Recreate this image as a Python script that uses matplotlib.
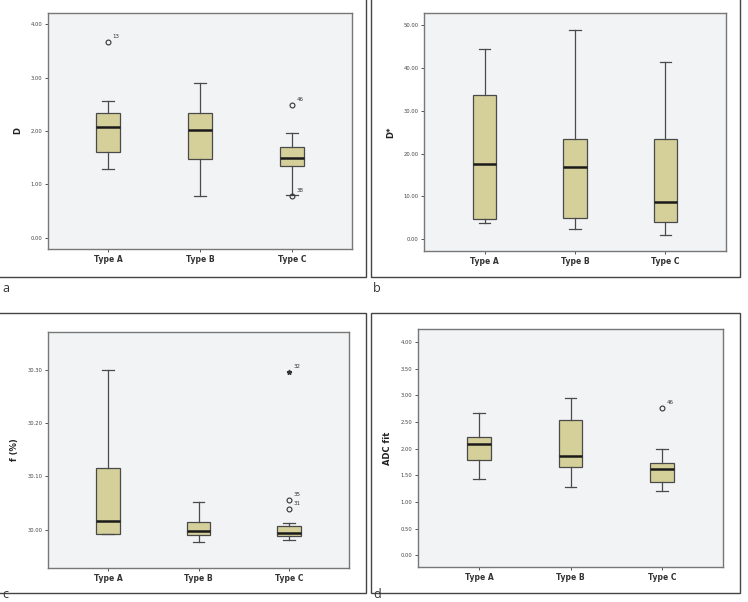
import matplotlib
matplotlib.use("Agg")
import matplotlib.pyplot as plt
from matplotlib.patches import Rectangle

W, H = 748, 602

categories = ["Type A", "Type B", "Type C"]

# panel a: D
d_whislo = [1.29, 0.78, 0.81]
d_q1 = [1.60, 1.48, 1.34]
d_med = [2.07, 2.01, 1.49]
d_q3 = [2.33, 2.33, 1.70]
d_whishi = [2.57, 2.90, 1.97]
d_out = [(1, 3.66, "13", "o"), (3, 2.49, "46", "o"), (3, 0.78, "38", "o")]
d_ticks = [0, 1, 2, 3, 4]

# panel b: D*
ds_whislo = [3.7, 2.5, 1.0]
ds_q1 = [4.7, 4.9, 4.0]
ds_med = [17.5, 16.9, 8.7]
ds_q3 = [33.8, 23.5, 23.4]
ds_whishi = [44.5, 48.9, 41.4]
ds_out = []
ds_ticks = [0, 10, 20, 30, 40, 50]

# panel c: f (%)
f_whislo = [29.991, 29.977, 29.981]
f_q1 = [29.9915, 29.9895, 29.9887]
f_med = [30.016, 29.998, 29.994]
f_q3 = [30.1165, 30.015, 30.007]
f_whishi = [30.300, 30.051, 30.0126]
f_out = [(3, 30.297, "32", "*"), (3, 30.056, "35", "o"), (3, 30.039, "31", "o")]
f_ticks = [30.00, 30.10, 30.20, 30.30]

# panel d: ADC fit
adc_whislo = [1.43, 1.29, 1.20]
adc_q1 = [1.79, 1.66, 1.38]
adc_med = [2.08, 1.87, 1.61]
adc_q3 = [2.225, 2.53, 1.735]
adc_whishi = [2.66, 2.95, 1.99]
adc_out = [(3, 2.76, "46", "o")]
adc_ticks = [0, 0.5, 1.0, 1.5, 2.0, 2.5, 3.0, 3.5, 4.0]

BOX = "#d5cf99"
BG = "#f1f3f5"
EDGE = "#4a4a4a"


def px_axes(fig, x0, y0, x1, y1):
    return fig.add_axes([x0 / W, 1 - y1 / H, (x1 - x0) / W, (y1 - y0) / H])


def draw_panel(ax, whislo, q1, med, q3, whishi, outliers, ticks, ylim, ylabel, xlim):
    stats = []
    for i in range(len(categories)):
        stats.append({"whislo": whislo[i], "q1": q1[i], "med": med[i],
                      "q3": q3[i], "whishi": whishi[i], "fliers": []})
    ax.bxp(stats, positions=[1, 2, 3], widths=0.26, capwidths=0.13,
           showfliers=False, patch_artist=True,
           boxprops=dict(facecolor=BOX, edgecolor=EDGE, linewidth=0.9),
           medianprops=dict(color="#1a1a1a", linewidth=1.8),
           whiskerprops=dict(color=EDGE, linewidth=0.9),
           capprops=dict(color=EDGE, linewidth=0.9))
    for pos, val, lab, mk in outliers:
        if mk == "*":
            ax.plot(pos, val, marker="*", ms=3.5, color="#333333", ls="none")
        else:
            ax.plot(pos, val, marker="o", ms=3.5, mfc="none", mec="#333333",
                    mew=0.8, ls="none")
        ax.annotate(lab, (pos, val), xytext=(3, 3), textcoords="offset points",
                    fontsize=4, color="#333333")
    ax.set_facecolor(BG)
    ax.set_xlim(*xlim)
    ax.set_ylim(*ylim)
    ax.set_yticks(ticks)
    ax.set_yticklabels(["%.2f" % t for t in ticks], fontsize=3.8, color="#444444")
    ax.set_xticks([1, 2, 3])
    ax.set_xticklabels(categories, fontsize=5.5, fontweight="bold", color="#333333")
    ax.tick_params(axis="both", length=2.5, width=0.7, color="#555555", pad=1.5)
    ax.set_ylabel(ylabel, fontsize=6, fontweight="bold", color="#222222", labelpad=6)
    for sp in ax.spines.values():
        sp.set_color("#777777")
        sp.set_linewidth(1.0)


fig = plt.figure(figsize=(W / 100, H / 100), dpi=100)
fig.patch.set_facecolor("white")

# outer panel frames
for x0, y0, x1, y1 in [(-5, -5, 366, 277), (371, -5, 740, 277),
                       (-5, 313, 366, 593), (371, 313, 740, 593)]:
    fig.patches.append(Rectangle((x0 / W, 1 - y1 / H), (x1 - x0) / W, (y1 - y0) / H,
                                 transform=fig.transFigure, fill=False,
                                 edgecolor="#444444", linewidth=1.0))

ax_a = px_axes(fig, 48, 13, 352, 249)
draw_panel(ax_a, d_whislo, d_q1, d_med, d_q3, d_whishi, d_out, d_ticks,
           (-0.21, 4.21), "D", (0.35, 3.65))

ax_b = px_axes(fig, 424, 13, 726, 251)
draw_panel(ax_b, ds_whislo, ds_q1, ds_med, ds_q3, ds_whishi, ds_out, ds_ticks,
           (-2.73, 52.86), "D*", (0.33, 3.67))

ax_c = px_axes(fig, 48, 332, 349, 568)
draw_panel(ax_c, f_whislo, f_q1, f_med, f_q3, f_whishi, f_out, f_ticks,
           (29.9275, 30.372), "f (%)", (0.337, 3.663))

ax_d = px_axes(fig, 418, 329, 723, 567)
draw_panel(ax_d, adc_whislo, adc_q1, adc_med, adc_q3, adc_whishi, adc_out, adc_ticks,
           (-0.22, 4.245), "ADC fit", (0.335, 3.665))

for lab, x, y in [("a", 2, 289), ("b", 373, 289), ("c", 2, 601), ("d", 373, 601)]:
    fig.text(x / W, 1 - y / H, lab, fontsize=9, color="#333333",
             ha="left", va="bottom" if y > 300 else "center", family="Open Sans")

fig.savefig("out.png", dpi=100)
